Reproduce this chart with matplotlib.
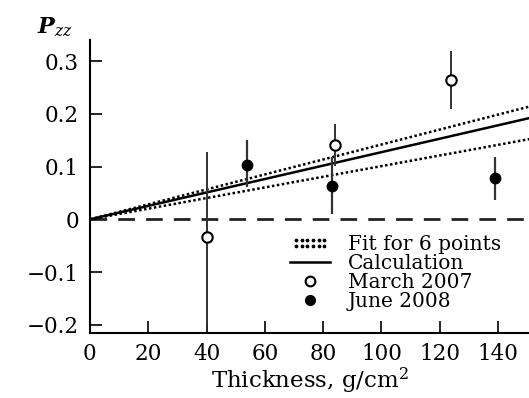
import matplotlib.pyplot as plt
from matplotlib.lines import Line2D
from matplotlib.legend_handler import HandlerLine2D

plt.rcParams['font.family'] = ['DejaVu Serif']
plt.rcParams['mathtext.fontset'] = 'dejavuserif'

# March 2007 (open circles)
mar_x = [40, 84, 124]
mar_y = [-0.034, 0.142, 0.265]
mar_lo = [0.166, 0.04, 0.055]
mar_hi = [0.162, 0.038, 0.055]

# June 2008 (filled circles)
jun_x = [54, 83, 139]
jun_y = [0.104, 0.063, 0.078]
jun_lo = [0.043, 0.052, 0.041]
jun_hi = [0.046, 0.055, 0.040]

# straight lines through the origin: slope per g/cm^2
calc_slope = 0.001275
fit_hi = 0.00142
fit_lo = 0.00101

x_ticks = [0, 20, 40, 60, 80, 100, 120, 140]
y_ticks = [-0.2, -0.1, 0, 0.1, 0.2, 0.3]
y_labels = ['\u22120.2', '\u22120.1', '0', '0.1', '0.2', '0.3']

fig = plt.figure(figsize=(5.29, 3.98), dpi=100)
ax = fig.add_axes([0.170, 0.163, 0.830, 0.736])

xx = [0, 151]
ax.plot(xx, [0, 0], color='#222222', lw=2, dashes=(6, 4))
ax.plot(xx, [calc_slope * v for v in xx], color='black', lw=1.8)
ax.plot(xx, [fit_hi * v for v in xx], color='black', lw=1.8, ls=(0, (1, 1)))
ax.plot(xx, [fit_lo * v for v in xx], color='black', lw=1.8, ls=(0, (1, 1)))

ax.errorbar(mar_x, mar_y, yerr=[mar_lo, mar_hi], fmt='o', mfc='white', mec='black',
            mew=1.5, ms=7.5, ecolor='#333333', elinewidth=1.4, capsize=0, zorder=5)
ax.errorbar(jun_x, jun_y, yerr=[jun_lo, jun_hi], fmt='o', mfc='black', mec='black',
            ms=7.5, ecolor='#333333', elinewidth=1.6, capsize=0, zorder=5)

ax.set_xlim(0, 150.6)
ax.set_ylim(-0.216, 0.34)
ax.set_xticks(x_ticks)
ax.set_yticks(y_ticks)
ax.set_yticklabels(y_labels)
ax.tick_params(direction='in', length=8.5, width=1.2, labelsize=15.5)
ax.tick_params(axis='y', pad=8)
ax.tick_params(axis='x', pad=7)
for s in ['top', 'right']:
    ax.spines[s].set_visible(False)
for s in ['left', 'bottom']:
    ax.spines[s].set_linewidth(1.5)

ax.set_xlabel('Thickness, g/cm$^2$', fontsize=16.5, labelpad=1)
fig.text(0.07, 0.915, r'$\boldsymbol{P}_{zz}$', fontsize=16)

fit_handle = Line2D([], [], ls='none', marker='$:$', color='black', ms=6)
handles = [
    fit_handle,
    Line2D([], [], color='black', lw=1.8),
    Line2D([], [], ls='none', marker='o', mfc='white', mec='black', mew=1.5, ms=7),
    Line2D([], [], ls='none', marker='o', mfc='black', mec='black', ms=7),
]
labels = ['Fit for 6 points', 'Calculation', 'March 2007', 'June 2008']
ax.legend(handles, labels, frameon=False, fontsize=14.5, loc='upper left',
          bbox_to_anchor=(0.456, 0.335), handlelength=2.0, handletextpad=0.85,
          labelspacing=0.0, borderpad=0, borderaxespad=0,
          handler_map={fit_handle: HandlerLine2D(numpoints=6)})

fig.savefig('out.png', dpi=100)
